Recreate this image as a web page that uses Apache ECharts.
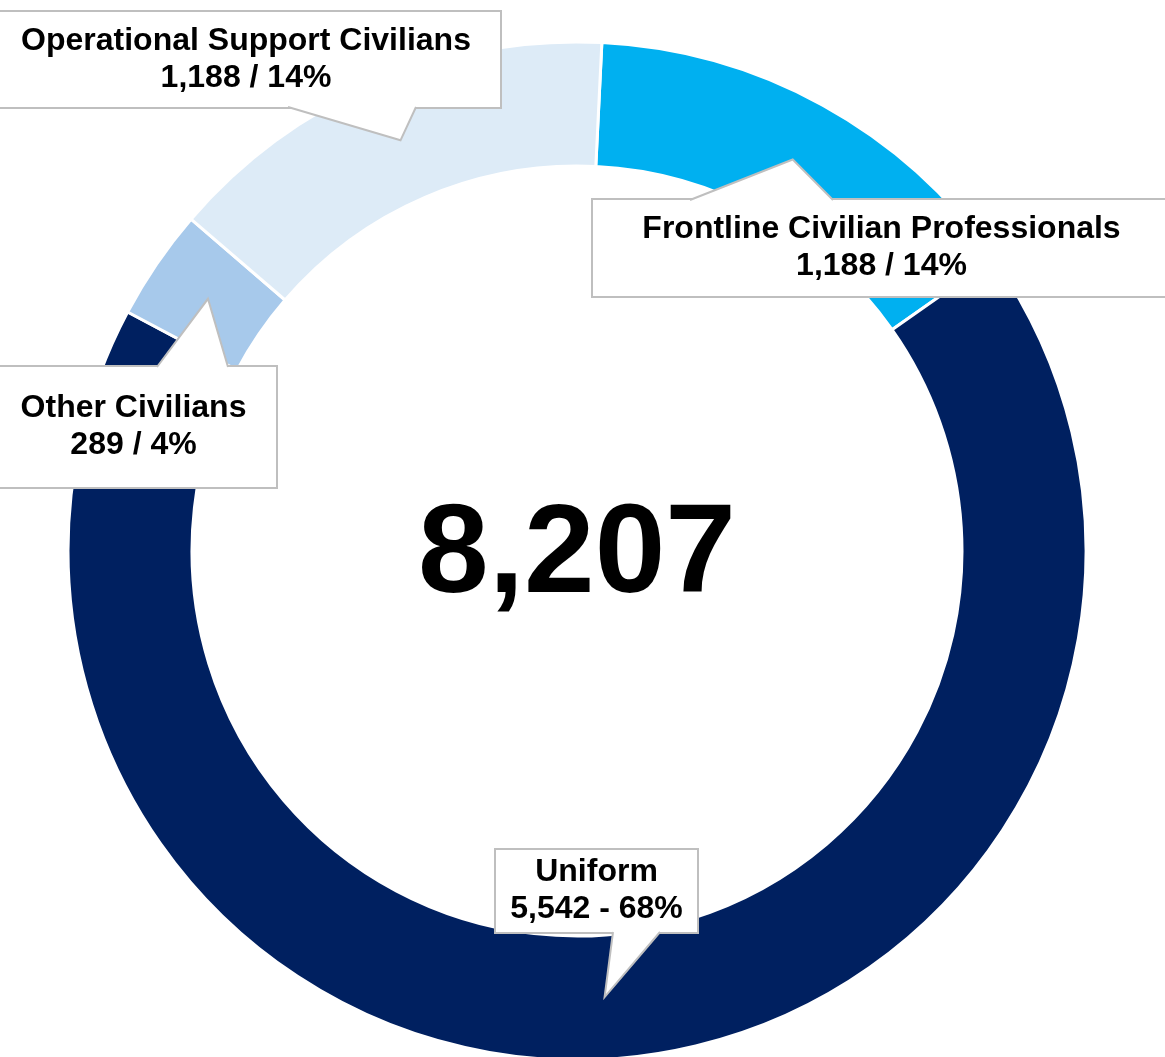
<!DOCTYPE html>
<html><head><meta charset="utf-8">
<script src="https://cdn.jsdelivr.net/npm/echarts@6/dist/echarts.min.js"></script>
<style>html,body{margin:0;padding:0;background:#fff}#main{width:1165px;height:1057px}</style>
</head><body><div id="main"></div>
<script>
// ---- data ----
const categories = ['Frontline Civilian Professionals', 'Uniform', 'Other Civilians', 'Operational Support Civilians'];
const values = [1188, 5542, 289, 1188];
const separators = [' / ', ' - ', ' / ', ' / '];

// ---- styles ----
const colors = ['#00B0F0', '#002060', '#A7C9EB', '#DDEBF7'];
const FONT = '"Liberation Sans", Arial, sans-serif';
const BORDER = '#BFBFBF';
const LINE_H = 37;

// ---- callout layout (label box centre, size, tail edge and base) ----
const callouts = [
  {cx: 881.5, cy: 248,  w: 577, h: 96,  edge: 'top',    b1: 690, b2: 833},
  {cx: 596.5, cy: 891,  w: 201, h: 82,  edge: 'bottom', b1: 613, b2: 660},
  {cx: 133.5, cy: 427,  w: 285, h: 120, edge: 'top',    b1: 157, b2: 228},
  {cx: 246,   cy: 59.5, w: 508, h: 95,  edge: 'bottom', b1: 288, b2: 416}
];

const total = values.reduce((a, b) => a + b, 0);
const chart = echarts.init(document.getElementById('main'), null, {renderer: 'canvas'});

const pieData = categories.map((name, i) => ({
  name: name,
  value: values[i],
  itemStyle: {color: colors[i]},
  label: {
    width: callouts[i].w - 20,
    padding: [(callouts[i].h - 2 * LINE_H) / 2, 10, (callouts[i].h - 2 * LINE_H) / 2, 10]
  }
}));

const option = {
  animation: false,
  backgroundColor: '#ffffff',
  series: [{
    type: 'pie',
    center: [577, 551],
    radius: [385, 509],
    startAngle: 87.2,
    clockwise: true,
    avoidLabelOverlap: false,
    percentPrecision: 0,
    emphasis: {disabled: true},
    itemStyle: {borderColor: '#ffffff', borderWidth: 3},
    label: {
      show: true,
      position: 'inside',
      rotate: 0,
      overflow: 'none',
      color: '#000000',
      fontFamily: FONT,
      fontWeight: 'bold',
      fontSize: 32,
      lineHeight: LINE_H,
      align: 'center',
      backgroundColor: '#ffffff',
      borderColor: BORDER,
      borderWidth: 2,
      formatter: function (p) {
        return p.name + '\n' + p.value.toLocaleString('en-US') + separators[p.dataIndex] + p.percent + '%';
      }
    },
    labelLine: {show: false},
    labelLayout: function (p) {
      const c = callouts[p.dataIndex];
      return {x: c.cx, y: c.cy, align: 'center', verticalAlign: 'middle'};
    },
    data: pieData
  }]
};
chart.setOption(option);

// ---- callout tails pointing at each slice's centroid (from the library's pie layout) ----
function sliceLayout(i) {
  try {
    const s = chart.getModel().getSeriesByIndex(0);
    const l = s.getData().getItemLayout(i);
    if (l && isFinite(l.startAngle)) return l;
  } catch (e) {}
  return null;
}
const graphics = [];
let pcx = 577, pcy = 551;
categories.forEach((n, i) => {
  const l = sliceLayout(i);
  if (!l) return;
  pcx = l.cx; pcy = l.cy;
  const mid = (l.startAngle + l.endAngle) / 2;
  const rm = (l.r + l.r0) / 2;
  const tip = [l.cx + rm * Math.cos(mid), l.cy + rm * Math.sin(mid)];
  const c = callouts[i];
  const ey = c.edge === 'top' ? c.cy - c.h / 2 : c.cy + c.h / 2;
  const inward = c.edge === 'top' ? 3 : -3;
  graphics.push({
    type: 'polygon', z: 100, silent: true,
    shape: {points: [[c.b1 + 1.5, ey + inward], [c.b1, ey], tip, [c.b2, ey], [c.b2 - 1.5, ey + inward]]},
    style: {fill: '#ffffff', stroke: null}
  });
  graphics.push({
    type: 'polyline', z: 101, silent: true,
    shape: {points: [[c.b1, ey], tip, [c.b2, ey]]},
    style: {stroke: BORDER, lineWidth: 2, fill: null, lineJoin: 'miter'}
  });
});
graphics.push({
  type: 'text', z: 100, silent: true,
  x: pcx, y: pcy + 6,
  style: {
    text: total.toLocaleString('en-US'),
    fontFamily: FONT, fontWeight: 'bold', fontSize: 127,
    fill: '#000000', textAlign: 'center', textVerticalAlign: 'middle'
  }
});
chart.setOption({graphic: graphics});
</script>
</body></html>
